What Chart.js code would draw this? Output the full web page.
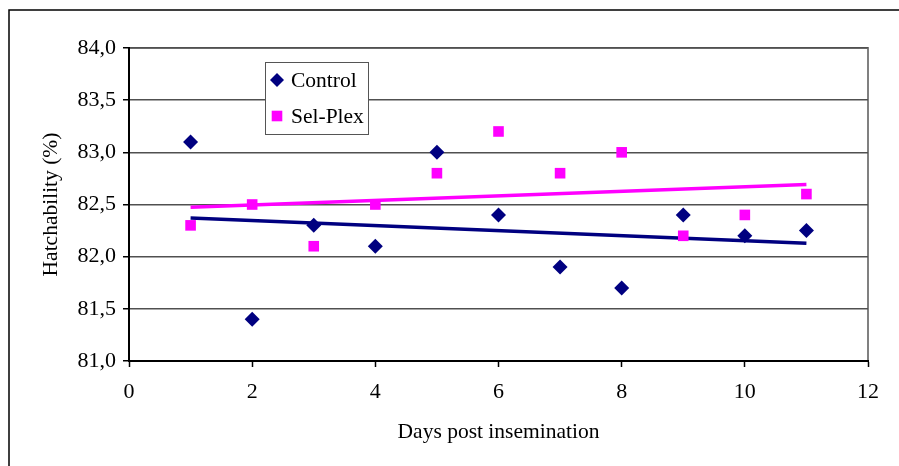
<!DOCTYPE html>
<html>
<head>
<meta charset="utf-8">
<script src="https://cdn.jsdelivr.net/npm/chart.js@4/dist/chart.umd.min.js"></script>
<style>
  html, body { margin: 0; padding: 0; background: #fff; }
  #wrap { width: 899px; height: 466px; position: relative; }
</style>
</head>
<body>
<div id="wrap"><canvas id="hatchChart" width="899" height="466"></canvas></div>
<script>
// Dados
const days = [1, 2, 3, 4, 5, 6, 7, 8, 9, 10, 11];
const controlValues = [83.1, 81.4, 82.3, 82.1, 83.0, 82.4, 81.9, 81.7, 82.4, 82.2, 82.25];
const selPlexValues = [82.3, 82.5, 82.1, 82.5, 82.8, 83.2, 82.8, 83.0, 82.2, 82.4, 82.6];
const xTicks = [0, 2, 4, 6, 8, 10, 12];
const yTicks = [81.0, 81.5, 82.0, 82.5, 83.0, 83.5, 84.0];

const CONTROL_COLOR = "#000080";
const SELPLEX_COLOR = "#ff00ff";
const FONT = "'Liberation Serif', 'Times New Roman', serif";

// Linha de tendência linear (mínimos quadrados), como no Excel
function trendline(xs, ys) {
  const n = xs.length;
  const mx = xs.reduce((a, b) => a + b, 0) / n;
  const my = ys.reduce((a, b) => a + b, 0) / n;
  let sxy = 0, sxx = 0;
  for (let i = 0; i < n; i++) {
    sxy += (xs[i] - mx) * (ys[i] - my);
    sxx += (xs[i] - mx) * (xs[i] - mx);
  }
  const slope = sxy / sxx;
  const x0 = xs[0], x1 = xs[n - 1];
  return [
    { x: x0, y: my + slope * (x0 - mx) },
    { x: x1, y: my + slope * (x1 - mx) }
  ];
}

const toPoints = (xs, ys) => xs.map((x, i) => ({ x: x, y: ys[i] }));

// Moldura externa, borda da área do gráfico e legenda
const framePlugin = {
  id: "frame",
  beforeDraw(chart) {
    const c = chart.ctx;
    const a = chart.chartArea;
    c.save();
    c.strokeStyle = "#000";
    c.lineWidth = 1.5;
    c.beginPath();
    c.moveTo(9, 466);
    c.lineTo(9, 10);
    c.lineTo(899, 10);
    c.stroke();
    c.strokeStyle = "#808080";
    c.lineWidth = 2;
    c.beginPath();
    c.moveTo(a.left, a.top);
    c.lineTo(a.right, a.top);
    c.lineTo(a.right, a.bottom);
    c.stroke();
    c.restore();
  },
  afterDraw(chart) {
    const c = chart.ctx;
    const bx = 265, by = 62, bw = 103, bh = 72;
    c.save();
    c.fillStyle = "#fff";
    c.fillRect(bx, by, bw, bh);
    c.strokeStyle = "#555";
    c.lineWidth = 1;
    c.strokeRect(bx + 0.5, by + 0.5, bw, bh);
    const items = [
      { label: "Control", style: "rectRot", color: CONTROL_COLOR, r: 7, y: by + 18 },
      { label: "Sel-Plex", style: "rect", color: SELPLEX_COLOR, r: 7.5, y: by + 54 }
    ];
    items.forEach(it => {
      c.fillStyle = it.color;
      c.strokeStyle = it.color;
      Chart.helpers.drawPoint(c, { pointStyle: it.style, radius: it.r, borderWidth: 0 }, bx + 12, it.y);
      c.fillStyle = "#000";
      c.font = "21.5px " + FONT;
      c.textBaseline = "middle";
      c.textAlign = "left";
      c.fillText(it.label, bx + 26, it.y + 1);
    });
    c.restore();
  }
};

const ctx = document.getElementById("hatchChart").getContext("2d");
const hatchChart = new Chart(ctx, {
  type: "scatter",
  data: {
    datasets: [
      {
        label: "Control",
        data: toPoints(days, controlValues),
        pointStyle: "rectRot",
        pointRadius: 7.5,
        backgroundColor: CONTROL_COLOR,
        borderColor: CONTROL_COLOR,
        borderWidth: 0
      },
      {
        label: "Sel-Plex",
        data: toPoints(days, selPlexValues),
        pointStyle: "rect",
        pointRadius: 7.5,
        backgroundColor: SELPLEX_COLOR,
        borderColor: SELPLEX_COLOR,
        borderWidth: 0
      },
      {
        label: "Control trend",
        type: "line",
        data: trendline(days, controlValues),
        borderColor: CONTROL_COLOR,
        borderWidth: 3.5,
        pointRadius: 0,
        fill: false
      },
      {
        label: "Sel-Plex trend",
        type: "line",
        data: trendline(days, selPlexValues),
        borderColor: SELPLEX_COLOR,
        borderWidth: 3.5,
        pointRadius: 0,
        fill: false
      }
    ]
  },
  options: {
    responsive: false,
    animation: false,
    layout: { padding: { top: 48, right: 31, left: 0, bottom: 0 } },
    plugins: {
      legend: { display: false },
      tooltip: { enabled: false }
    },
    scales: {
      x: {
        type: "linear",
        min: xTicks[0],
        max: xTicks[xTicks.length - 1],
        afterBuildTicks: (scale) => { scale.ticks = xTicks.map(v => ({ value: v })); },
        afterFit: (scale) => { scale.height = 105; },
        grid: { drawOnChartArea: false, drawTicks: true, tickLength: 6, color: "#000", tickWidth: 1.5 },
        border: { color: "#000", width: 2 },
        ticks: { color: "#000", font: { family: FONT, size: 22 }, padding: 12, maxRotation: 0 },
        title: {
          display: true,
          text: "Days post insemination",
          color: "#000",
          font: { family: FONT, size: 21.5 },
          padding: { top: 0, bottom: 21 }
        }
      },
      y: {
        min: yTicks[0],
        max: yTicks[yTicks.length - 1],
        afterBuildTicks: (scale) => { scale.ticks = yTicks.map(v => ({ value: v })); },
        afterFit: (scale) => { scale.width = 129; },
        grid: { color: "#505050", lineWidth: 1.5, drawTicks: true, tickLength: 6, tickColor: "#000" },
        border: { color: "#000", width: 2 },
        ticks: {
          color: "#000",
          font: { family: FONT, size: 22 },
          padding: 7,
          callback: (v) => v.toFixed(1).replace(".", ",")
        },
        title: {
          display: true,
          text: "Hatchability (%)",
          color: "#000",
          font: { family: FONT, size: 21.5 },
          padding: { top: 38, bottom: 0 }
        }
      }
    }
  },
  plugins: [framePlugin]
});
</script>
</body>
</html>
